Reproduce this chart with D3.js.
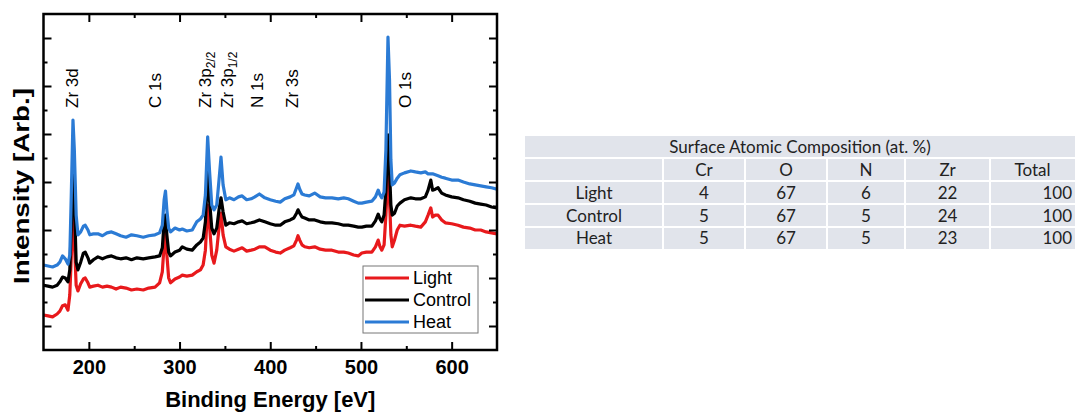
<!DOCTYPE html>
<html>
<head>
<meta charset="utf-8">
<script src="https://cdn.jsdelivr.net/npm/d3@7"></script>
<style>
  body { margin: 0; background: #fff; }
  svg { display: block; }
</style>
</head>
<body>
<svg id="chart" width="1077" height="412"></svg>
<script>
// XPS survey spectra (binding energy in eV, intensity in arbitrary units)
const energy = [150,155,160,165,168,171,174,177,179,180.5,182.5,184,186,188,191,194,196,199,201,205,
  210,215,220,225,230,235,241,247,253,260,266,273,278,281,283,284.5,286,288,290,295,
  300,303,308,314,319,323,326,328.5,331,333,335.5,338,341,343.5,345.7,348,351,355,360,365,
  369,374,379,383,388,394,400,406,411,416,422,426,429,430.6,432.5,435,438,443,449,455,
  461,468,475,481,486,492,497,501,506,512,516,519,521,523,525.5,527.5,529.8,531.5,533,534.5,
  537,540,543,548,555,560,566,571,574,577,579,582,585,589,593,600,607,613,620,626,
  632,638,644,650];

const lightIntensity = [0.73,0.71,0.69,0.75,0.81,0.92,0.94,0.83,1.15,1.88,2.81,2.29,1.35,1.23,1.38,1.48,1.50,1.40,1.31,1.33,
  1.35,1.31,1.33,1.31,1.27,1.31,1.29,1.25,1.27,1.25,1.29,1.31,1.40,1.63,2.19,2.50,1.98,1.50,1.40,1.48,
  1.52,1.56,1.54,1.56,1.63,1.67,1.77,2.08,3.02,2.60,1.98,1.81,2.08,2.54,2.85,2.40,2.15,2.10,2.06,2.10,
  2.13,2.06,2.08,2.10,2.15,2.15,2.08,2.04,2.02,2.08,2.13,2.17,2.29,2.38,2.29,2.19,2.15,2.13,2.15,2.10,
  2.08,2.08,2.04,2.04,2.02,1.98,1.96,2.02,2.04,2.04,2.15,2.29,2.15,2.08,2.19,2.81,3.75,3.13,2.40,2.15,
  2.29,2.50,2.60,2.58,2.60,2.58,2.56,2.67,2.81,2.96,2.77,2.81,2.81,2.71,2.65,2.63,2.60,2.56,2.54,2.50,
  2.50,2.46,2.44,2.42];

const controlIntensity = [1.35,1.33,1.31,1.35,1.42,1.52,1.50,1.42,1.67,2.50,3.65,3.13,1.83,1.67,1.83,2.02,2.04,1.92,1.81,1.88,
  1.94,1.90,1.94,1.96,1.92,1.90,1.92,1.88,1.92,1.90,1.92,1.94,1.96,2.13,2.67,2.81,2.40,2.04,1.96,2.04,
  2.08,2.15,2.10,2.08,2.19,2.25,2.33,2.67,3.75,3.13,2.54,2.42,2.54,2.92,3.17,2.88,2.60,2.65,2.63,2.67,
  2.69,2.63,2.65,2.67,2.71,2.67,2.63,2.60,2.60,2.67,2.71,2.75,2.85,2.92,2.85,2.77,2.75,2.71,2.71,2.67,
  2.65,2.65,2.63,2.60,2.60,2.58,2.56,2.56,2.58,2.58,2.69,2.83,2.73,2.67,2.81,3.33,4.48,3.75,3.02,2.81,
  2.85,3.00,3.06,3.13,3.17,3.15,3.15,3.19,3.33,3.54,3.33,3.35,3.38,3.27,3.23,3.19,3.17,3.13,3.10,3.06,
  3.04,3.02,2.98,2.96];

const heatIntensity = [1.77,1.75,1.73,1.77,1.83,1.96,1.90,1.79,1.98,3.13,4.79,4.17,2.81,2.40,2.46,2.58,2.60,2.50,2.40,2.42,
  2.42,2.38,2.44,2.46,2.42,2.38,2.35,2.40,2.38,2.35,2.38,2.40,2.44,2.60,3.13,3.31,2.92,2.54,2.46,2.54,
  2.50,2.52,2.48,2.50,2.67,2.73,2.81,3.23,4.44,3.75,3.02,2.92,3.02,3.54,4.02,3.44,3.13,3.17,3.13,3.19,
  3.21,3.13,3.15,3.19,3.25,3.17,3.13,3.10,3.08,3.15,3.19,3.23,3.38,3.46,3.35,3.25,3.23,3.21,3.27,3.19,
  3.17,3.17,3.15,3.17,3.15,3.10,3.06,3.06,3.08,3.10,3.19,3.33,3.23,3.17,3.29,4.17,6.52,5.63,3.96,3.44,
  3.48,3.58,3.65,3.69,3.73,3.71,3.69,3.71,3.67,3.67,3.67,3.65,3.63,3.60,3.58,3.54,3.54,3.50,3.46,3.44,
  3.42,3.40,3.38,3.35];

const seriesNames = ["Light", "Control", "Heat"];
const seriesColors = ["#e8191c", "#000000", "#2b7bd5"];

// Core-level annotations
const peakNames = ["Zr 3d", "C 1s", "Zr 3p", "Zr 3p", "N 1s", "Zr 3s", "O 1s"];
const peakSubscripts = ["", "", "2/2", "1/2", "", "", ""];
const peakEnergies = [181.4, 273, 328, 352.3, 385.4, 424, 548.5];

// Axis ticks
const xMajorTicks = [200, 300, 400, 500, 600];
const xMinorTicks = [250, 350, 450, 550];
const yMajorTicks = [0.5, 1.5, 2.5, 3.5, 4.5, 5.5, 6.5];
const yMinorTicks = [1, 2, 3, 4, 5, 6];

// Composition table
const tableTitle = "Surface Atomic Composition (at. %)";
const tableColumns = ["Cr", "O", "N", "Zr", "Total"];
const tableRows = ["Light", "Control", "Heat"];
const crPercent = [4, 5, 5];
const oPercent = [67, 67, 67];
const nPercent = [6, 5, 5];
const zrPercent = [22, 24, 23];
const totalPercent = [100, 100, 100];

const svg = d3.select("#chart");
const plot = { left: 43.5, right: 497, top: 14, bottom: 350 };

const x = d3.scaleLinear().domain([150, 650]).range([plot.left, plot.right]);
const y = d3.scaleLinear().domain([0, 7]).range([plot.bottom, plot.top]);

svg.append("defs").append("clipPath").attr("id", "plotClip")
  .append("rect")
  .attr("x", plot.left).attr("y", plot.top)
  .attr("width", plot.right - plot.left).attr("height", plot.bottom - plot.top);

// Spectra
const intensities = [lightIntensity, controlIntensity, heatIntensity];
const line = d3.line()
  .x(d => x(d[0]))
  .y(d => y(d[1]));

const spectra = svg.append("g").attr("clip-path", "url(#plotClip)");
intensities.forEach((vals, k) => {
  spectra.append("path")
    .datum(energy.map((e, i) => [e, vals[i]]))
    .attr("d", line)
    .attr("fill", "none")
    .attr("stroke", seriesColors[k])
    .attr("stroke-width", 3.2)
    .attr("stroke-linejoin", "round");
});

// Axes with inward ticks on all four sides
const axisFont = "'Liberation Sans', Arial, sans-serif";
function styleAxis(g) {
  g.select(".domain").remove();
  g.selectAll(".tick line").attr("stroke", "#000").attr("stroke-width", 2);
}
svg.append("g").attr("transform", `translate(0,${plot.bottom})`)
  .call(d3.axisBottom(x).tickValues(xMajorTicks).tickSize(-8).tickPadding(10).tickFormat(d3.format("d")))
  .call(styleAxis)
  .call(g => g.selectAll("text").attr("font-family", axisFont).attr("font-size", 20)
    .attr("font-weight", "bold").attr("fill", "#000"));
svg.append("g").attr("transform", `translate(0,${plot.bottom})`)
  .call(d3.axisBottom(x).tickValues(xMinorTicks).tickSize(-4).tickFormat(""))
  .call(styleAxis);
svg.append("g").attr("transform", `translate(0,${plot.top})`)
  .call(d3.axisTop(x).tickValues(xMajorTicks).tickSize(-8).tickFormat(""))
  .call(styleAxis);
svg.append("g").attr("transform", `translate(0,${plot.top})`)
  .call(d3.axisTop(x).tickValues(xMinorTicks).tickSize(-4).tickFormat(""))
  .call(styleAxis);
svg.append("g").attr("transform", `translate(${plot.left},0)`)
  .call(d3.axisLeft(y).tickValues(yMajorTicks).tickSize(-8).tickFormat(""))
  .call(styleAxis);
svg.append("g").attr("transform", `translate(${plot.left},0)`)
  .call(d3.axisLeft(y).tickValues(yMinorTicks).tickSize(-4).tickFormat(""))
  .call(styleAxis);
svg.append("g").attr("transform", `translate(${plot.right},0)`)
  .call(d3.axisRight(y).tickValues(yMajorTicks).tickSize(-8).tickFormat(""))
  .call(styleAxis);
svg.append("g").attr("transform", `translate(${plot.right},0)`)
  .call(d3.axisRight(y).tickValues(yMinorTicks).tickSize(-4).tickFormat(""))
  .call(styleAxis);

// Frame
svg.append("rect")
  .attr("x", plot.left).attr("y", plot.top)
  .attr("width", plot.right - plot.left).attr("height", plot.bottom - plot.top)
  .attr("fill", "none").attr("stroke", "#000").attr("stroke-width", 2.5);

// Axis titles
svg.append("text")
  .attr("x", (plot.left + plot.right) / 2).attr("y", 407)
  .attr("text-anchor", "middle")
  .attr("font-family", axisFont).attr("font-size", 22).attr("font-weight", "bold")
  .text("Binding Energy [eV]");
svg.append("text")
  .attr("transform", `translate(29,186) rotate(-90)`)
  .attr("text-anchor", "middle")
  .attr("font-family", axisFont).attr("font-size", 22).attr("font-weight", "bold")
  .attr("textLength", 196).attr("lengthAdjust", "spacingAndGlyphs")
  .text("Intensity [Arb.]");

// Peak annotations
peakNames.forEach((name, i) => {
  const t = svg.append("text")
    .attr("transform", `translate(${x(peakEnergies[i]) + 6},108) rotate(-90)`)
    .attr("font-family", axisFont).attr("font-size", 17).attr("fill", "#000");
  t.append("tspan").text(name);
  if (peakSubscripts[i]) {
    t.append("tspan").attr("font-size", 12).attr("dy", 4).text(peakSubscripts[i]);
  }
});

// Legend
const legend = svg.append("g").attr("transform", "translate(363,266)");
legend.append("rect")
  .attr("width", 115).attr("height", 67)
  .attr("fill", "#fff").attr("stroke", "#777").attr("stroke-width", 1);
seriesNames.forEach((name, i) => {
  const ly = 12 + i * 22;
  legend.append("line")
    .attr("x1", 2).attr("x2", 46).attr("y1", ly).attr("y2", ly)
    .attr("stroke", seriesColors[i]).attr("stroke-width", 3);
  legend.append("text")
    .attr("x", 50).attr("y", ly).attr("dy", "0.35em")
    .attr("font-family", axisFont).attr("font-size", 18)
    .text(name);
});

// Composition table
const tableFont = "Lato, 'Open Sans', sans-serif";
const colEdges = [525, 663, 745, 827, 905, 990, 1075];
const rowEdges = [136, 158, 181, 204, 227, 249];
const table = svg.append("g");
table.append("rect")
  .attr("x", colEdges[0]).attr("y", rowEdges[0])
  .attr("width", colEdges[colEdges.length - 1] - colEdges[0])
  .attr("height", rowEdges[rowEdges.length - 1] - rowEdges[0])
  .attr("fill", "#e1e4eb");
rowEdges.slice(1, -1).forEach(ry => {
  table.append("line")
    .attr("x1", colEdges[0]).attr("x2", colEdges[colEdges.length - 1])
    .attr("y1", ry).attr("y2", ry)
    .attr("stroke", "#fff").attr("stroke-width", 2);
});
colEdges.slice(1, -1).forEach(cx => {
  table.append("line")
    .attr("x1", cx).attr("x2", cx)
    .attr("y1", rowEdges[1]).attr("y2", rowEdges[rowEdges.length - 1])
    .attr("stroke", "#fff").attr("stroke-width", 2);
});
function cellText(str, col, row, anchor) {
  const cx0 = colEdges[col], cx1 = colEdges[col + 1];
  const cy = (rowEdges[row] + rowEdges[row + 1]) / 2;
  table.append("text")
    .attr("x", anchor === "end" ? cx1 - 3 : (cx0 + cx1) / 2)
    .attr("y", cy).attr("dy", "0.36em")
    .attr("text-anchor", anchor || "middle")
    .attr("font-family", tableFont).attr("font-size", 17).attr("fill", "#222")
    .text(str);
}
table.append("text")
  .attr("x", (colEdges[0] + colEdges[colEdges.length - 1]) / 2)
  .attr("y", (rowEdges[0] + rowEdges[1]) / 2).attr("dy", "0.36em")
  .attr("text-anchor", "middle")
  .attr("font-family", tableFont).attr("font-size", 17).attr("fill", "#222")
  .text(tableTitle);
tableColumns.forEach((c, j) => cellText(c, j + 1, 1));
const columnValues = [crPercent, oPercent, nPercent, zrPercent, totalPercent];
tableRows.forEach((r, i) => {
  cellText(r, 0, i + 2);
  columnValues.forEach((vals, j) => {
    cellText(String(vals[i]), j + 1, i + 2, j === columnValues.length - 1 ? "end" : "middle");
  });
});
</script>
</body>
</html>
